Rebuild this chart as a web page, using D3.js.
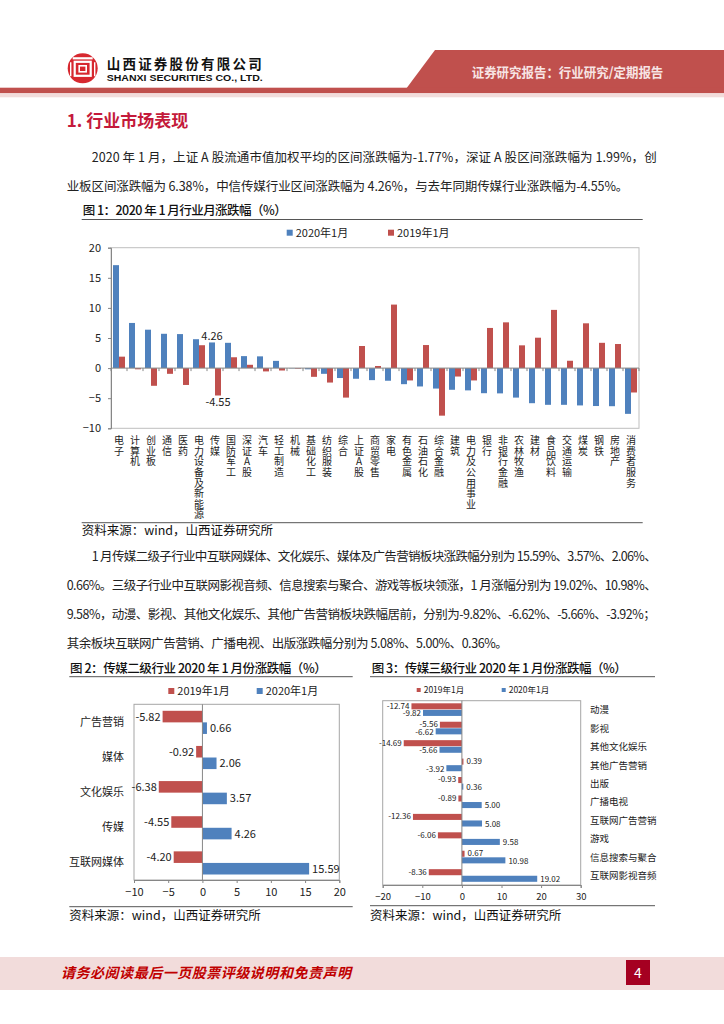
<!DOCTYPE html>
<html>
<head>
<meta charset="utf-8">
<script src="https://d3js.org/d3.v7.min.js"></script>
<style>
  body { margin: 0; padding: 0; background: #fff; }
  svg { display: block; }
</style>
</head>
<body>
<svg width="724" height="1024"></svg>
<script>
  // chart 1: industry monthly change
  const industries = ["电子", "计算机", "创业板", "通信", "医药", "电力设备及新能源", "传媒", "国防军工",
    "深证A股", "汽车", "轻工制造", "机械", "基础化工", "纺织服装", "综合", "上证A股", "商贸零售", "家电",
    "有色金属", "石油石化", "综合金融", "建筑", "电力及公用事业", "银行", "非银行金融", "农林牧渔",
    "建材", "食品饮料", "交通运输", "煤炭", "钢铁", "房地产", "消费者服务"];
  const chg2020 = [17.1, 7.5, 6.38, 5.7, 5.65, 4.8, 4.26, 4.2, 1.99, 1.95, 1.2, -0.05, -0.2, -0.95, -1.65,
    -1.77, -2.0, -2.1, -2.67, -3.05, -3.4, -3.6, -3.7, -4.17, -4.2, -4.9, -5.83, -6.1, -6.1, -6.2, -6.3,
    -6.33, -7.6];
  const chg2019 = [1.9, -0.2, -2.94, -0.95, -2.8, 3.8, -4.55, 1.8, 0.55, -0.55, -0.4, -0.1, -1.45, -2.4,
    -4.9, 3.67, 0.35, 10.55, -2.05, 3.83, -7.9, -1.4, -2.05, 6.67, 7.6, 3.78, 5.05, 9.67, 1.22, 7.44,
    4.2, 4.0, -4.05];
  const yTicks1 = [-10, -5, 0, 5, 10, 15, 20];

  // chart 2: media level-2
  const subCats2 = ["广告营销", "媒体", "文化娱乐", "传媒", "互联网媒体"];
  const sub2019 = [-5.82, -0.92, -6.38, -4.55, -4.20];
  const sub2020 = [0.66, 2.06, 3.57, 4.26, 15.59];
  const xTicks2 = [-10, -5, 0, 5, 10, 15, 20];

  // chart 3: media level-3
  const subCats3 = ["动漫", "影视", "其他文化娱乐", "其他广告营销", "出版", "广播电视", "互联网广告营销",
    "游戏", "信息搜索与聚合", "互联网影视音频"];
  const third2019 = [-12.74, -5.56, -14.69, 0.39, -0.93, -0.89, -12.36, -6.06, 0.67, -8.36];
  const third2020 = [-9.82, -6.62, -5.66, -3.92, 0.36, 5.00, 5.08, 9.58, 10.98, 19.02];
  const xTicks3 = [-20, -10, 0, 10, 20, 30];

  const BLUE = "#4f81bd", RED = "#c0504d";
  const FONT = "'Noto Sans CJK SC', sans-serif";
  const svg = d3.select("svg").style("font-family", FONT);

  // ---------- header ----------
  svg.append("path").attr("d", "M435,50H724V88H406.7Z").attr("fill", RED);
  svg.append("rect").attr("x", 0).attr("y", 87.7).attr("width", 724).attr("height", 5.6).attr("fill", RED);
  svg.append("rect").attr("x", 0).attr("y", 93.3).attr("width", 724).attr("height", 4).attr("fill", "#f2dcdb");

  const logo = svg.append("g").attr("transform", "translate(82.7,68.3)");
  logo.append("circle").attr("r", 15).attr("fill", "#d7282f");
  logo.append("line").attr("x1", -10).attr("x2", 10).attr("y1", -10).attr("y2", -10)
    .attr("stroke", "#fff").attr("stroke-width", 2.2);
  logo.append("rect").attr("x", -8).attr("y", -6.5).attr("width", 16).attr("height", 14)
    .attr("fill", "none").attr("stroke", "#fff").attr("stroke-width", 2.2);
  logo.append("rect").attr("x", -3.5).attr("y", -2.5).attr("width", 7).attr("height", 6)
    .attr("fill", "none").attr("stroke", "#fff").attr("stroke-width", 1.6);
  logo.append("line").attr("x1", -12).attr("x2", -12).attr("y1", -6).attr("y2", 8)
    .attr("stroke", "#fff").attr("stroke-width", 1.4);
  logo.append("line").attr("x1", 12).attr("x2", 12).attr("y1", -6).attr("y2", 8)
    .attr("stroke", "#fff").attr("stroke-width", 1.4);

  svg.append("text").attr("x", 106.7).attr("y", 68.5).attr("font-size", 13.5).attr("font-weight", 700)
    .attr("fill", "#111").attr("textLength", 155).attr("lengthAdjust", "spacing").text("山西证券股份有限公司");
  svg.append("text").attr("x", 106.7).attr("y", 81).attr("font-size", 9.5).attr("font-weight", 700)
    .attr("font-family", "'Liberation Sans Narrow', 'Liberation Sans', sans-serif")
    .attr("fill", "#111").attr("textLength", 156).attr("lengthAdjust", "spacingAndGlyphs")
    .text("SHANXI SECURITIES CO., LTD.");
  svg.append("text").attr("x", 471.7).attr("y", 77).attr("font-size", 13).attr("font-weight", 700)
    .attr("fill", "#f7e4e4").attr("textLength", 191.6).attr("lengthAdjust", "spacingAndGlyphs")
    .text("证券研究报告：行业研究/定期报告");

  svg.append("text").attr("x", 66.7).attr("y", 126.5).attr("font-size", 17).attr("font-weight", 700)
    .attr("fill", "#c41a3b").attr("textLength", 121.6).attr("lengthAdjust", "spacing").text("1. 行业市场表现");

  // ---------- paragraphs ----------
  function para(lines) {
    lines.forEach(l => {
      svg.append("text").attr("x", l.x).attr("y", l.y).attr("font-size", 12.5).attr("fill", "#222")
        .attr("textLength", l.w).attr("lengthAdjust", "spacing").text(l.t);
    });
  }
  para([
    { x: 91.7, y: 161.5, w: 565, t: "2020 年 1 月，上证 A 股流通市值加权平均的区间涨跌幅为-1.77%，深证 A 股区间涨跌幅为 1.99%，创" },
    { x: 66.7, y: 191, w: 561.6, t: "业板区间涨跌幅为 6.38%，中信传媒行业区间涨跌幅为 4.26%，与去年同期传媒行业涨跌幅为-4.55%。" }
  ]);
  para([
    { x: 91.7, y: 561, w: 565, t: "1 月传媒二级子行业中互联网媒体、文化娱乐、媒体及广告营销板块涨跌幅分别为 15.59%、3.57%、2.06%、" },
    { x: 66.7, y: 590, w: 590, t: "0.66%。三级子行业中互联网影视音频、信息搜索与聚合、游戏等板块领涨，1 月涨幅分别为 19.02%、10.98%、" },
    { x: 66.7, y: 619, w: 589, t: "9.58%，动漫、影视、其他文化娱乐、其他广告营销板块跌幅居前，分别为-9.82%、-6.62%、-5.66%、-3.92%；" },
    { x: 66.7, y: 648, w: 441, t: "其余板块互联网广告营销、广播电视、出版涨跌幅分别为 5.08%、5.00%、0.36%。" }
  ]);

  function figTitle(x, y, w, t, x0, x1, ly) {
    svg.append("text").attr("x", x).attr("y", y).attr("font-size", 12.5).attr("font-weight", 500)
      .attr("fill", "#111").attr("textLength", w).attr("lengthAdjust", "spacing").text(t);
    svg.append("line").attr("x1", x0).attr("x2", x1).attr("y1", ly).attr("y2", ly)
      .attr("stroke", "#555").attr("stroke-width", 1);
  }
  function source(x, y, x0, x1, ly) {
    svg.append("line").attr("x1", x0).attr("x2", x1).attr("y1", ly).attr("y2", ly)
      .attr("stroke", "#555").attr("stroke-width", 1);
    svg.append("text").attr("x", x).attr("y", y).attr("font-size", 12.5).attr("fill", "#111")
      .text("资料来源：wind，山西证券研究所");
  }
  function legendItem(x, y, size, color, label, fs) {
    svg.append("rect").attr("x", x).attr("y", y - size / 2).attr("width", size).attr("height", size).attr("fill", color);
    svg.append("text").attr("x", x + size + 3).attr("y", y).attr("dy", "0.36em")
      .attr("font-size", fs).attr("fill", "#222").text(label);
  }

  // ---------- chart 1 ----------
  figTitle(82.7, 215, 204, "图 1：2020 年 1 月行业月涨跌幅（%）", 81.7, 642.7, 219.5);
  legendItem(286.7, 232.7, 6, BLUE, "2020年1月", 11);
  legendItem(388, 232.7, 6, RED, "2019年1月", 11);

  const x1 = d3.scaleBand().domain(industries).range([111, 639]);
  const xs1 = d3.scaleBand().domain(["2020", "2019"]).range([2, x1.bandwidth() - 2]);
  const y1 = d3.scaleLinear().domain([-10, 20]).range([428.3, 247.7]);
  const g1 = svg.append("g");

  g1.append("rect").attr("x", 111).attr("y", y1(20)).attr("width", 528).attr("height", y1(-10) - y1(20))
    .attr("fill", "none").attr("stroke", "#bfbfbf");

  const ax1 = g1.append("g").attr("transform", "translate(111,0)")
    .call(d3.axisLeft(y1).tickValues(yTicks1).tickSize(3).tickPadding(7));
  ax1.selectAll("path, line").attr("stroke", "#868686");
  ax1.selectAll("text").attr("font-size", 11).attr("fill", "#222").attr("font-family", FONT);

  const series1 = [{ k: "2020", v: chg2020, c: BLUE }, { k: "2019", v: chg2019, c: RED }];
  series1.forEach(s => {
    g1.selectAll(null).data(industries).enter().append("rect")
      .attr("x", (d, i) => x1(d) + xs1(s.k))
      .attr("width", xs1.bandwidth())
      .attr("y", (d, i) => y1(Math.max(0, s.v[i])))
      .attr("height", (d, i) => Math.abs(y1(s.v[i]) - y1(0)))
      .attr("fill", s.c);
  });

  g1.append("line").attr("x1", 111).attr("x2", 639).attr("y1", y1(0)).attr("y2", y1(0)).attr("stroke", "#868686");
  g1.selectAll(null).data(industries.concat([null])).enter().append("line")
    .attr("x1", d => d === null ? 639 : x1(d)).attr("x2", d => d === null ? 639 : x1(d))
    .attr("y1", y1(0)).attr("y2", y1(0) + 3).attr("stroke", "#868686");

  // labels for 传媒
  const cm = industries.indexOf("传媒");
  g1.append("text").attr("x", x1("传媒") + xs1("2020") + xs1.bandwidth() / 2).attr("y", y1(chg2020[cm]) - 2.7)
    .attr("text-anchor", "middle").attr("font-size", 11).attr("fill", "#222").text(chg2020[cm].toFixed(2));
  g1.append("text").attr("x", x1("传媒") + xs1("2019") + xs1.bandwidth() / 2).attr("y", y1(chg2019[cm]) + 11)
    .attr("text-anchor", "middle").attr("font-size", 11).attr("fill", "#222").text(chg2019[cm].toFixed(2));

  // vertical category labels
  g1.selectAll(null).data(industries).enter().append("text")
    .attr("x", d => x1(d) + x1.bandwidth() / 2)
    .attr("y", 435.5)
    .style("writing-mode", "vertical-rl")
    .style("text-orientation", "upright")
    .style("letter-spacing", "0.6px")
    .attr("font-size", 10).attr("fill", "#222")
    .text(d => d);

  source(81.7, 535, 81.7, 642.7, 522.7);

  // ---------- horizontal grouped bar helper ----------
  function hbars(o) {
    const g = svg.append("g");
    const y = d3.scaleBand().domain(o.cats).range([o.top, o.bottom]);
    const ys = d3.scaleBand().domain(["2019", "2020"]).range(o.inner(y.bandwidth())).paddingInner(o.gap);
    const x = d3.scaleLinear().domain(o.domain).range([o.left, o.right]);

    g.append("rect").attr("x", o.left).attr("y", o.top).attr("width", o.right - o.left)
      .attr("height", o.bottom - o.top).attr("fill", "none").attr("stroke", "#a6a6a6");

    const ax = g.append("g").attr("transform", `translate(0,${o.bottom})`)
      .call(d3.axisBottom(x).tickValues(o.ticks).tickSize(3).tickPadding(o.tickPad));
    ax.selectAll("path, line").attr("stroke", "#868686");
    ax.selectAll("text").attr("font-size", o.fs).attr("fill", "#222").attr("font-family", FONT);

    const ser = [{ k: "2019", v: o.v2019, c: RED, dy: -o.spread }, { k: "2020", v: o.v2020, c: BLUE, dy: o.spread }];
    ser.forEach(s => {
      g.selectAll(null).data(o.cats).enter().append("rect")
        .attr("y", d => y(d) + ys(s.k))
        .attr("height", ys.bandwidth())
        .attr("x", (d, i) => x(Math.min(0, s.v[i])))
        .attr("width", (d, i) => Math.abs(x(s.v[i]) - x(0)))
        .attr("fill", s.c);
      g.selectAll(null).data(o.cats).enter().append("text")
        .attr("y", d => y(d) + ys(s.k) + ys.bandwidth() / 2 + s.dy)
        .attr("dy", "0.36em")
        .attr("x", (d, i) => s.v[i] < 0 ? x(s.v[i]) - 2 : x(s.v[i]) + 3)
        .attr("text-anchor", (d, i) => s.v[i] < 0 ? "end" : "start")
        .attr("font-size", o.vfs).attr("fill", "#222")
        .text((d, i) => s.v[i].toFixed(2));
    });

    g.append("line").attr("x1", x(0)).attr("x2", x(0)).attr("y1", o.top).attr("y2", o.bottom).attr("stroke", "#868686");

    g.selectAll(null).data(o.cats).enter().append("text")
      .attr("x", o.catX).attr("y", d => y(d) + y.bandwidth() / 2).attr("dy", "0.36em")
      .attr("text-anchor", o.catAnchor).attr("font-size", o.cfs).attr("fill", "#222").text(d => d);
  }

  // ---------- chart 2 ----------
  figTitle(70, 673, 256.7, "图 2：传媒二级行业 2020 年 1 月份涨跌幅（%）", 69.3, 352.7, 676.7);
  legendItem(168.3, 691, 6, RED, "2019年1月", 11);
  legendItem(256.7, 691, 6, BLUE, "2020年1月", 11);
  hbars({
    cats: subCats2, v2019: sub2019, v2020: sub2020, domain: [-10, 20], ticks: xTicks2,
    left: 134, right: 339.3, top: 704.3, bottom: 880,
    inner: bw => [6.5, bw - 5.5], gap: 0, tickPad: 5, fs: 11, vfs: 11, cfs: 11, spread: 0,
    catX: 124, catAnchor: "end"
  });
  source(69.3, 920, 69.3, 352.7, 906.7);

  // ---------- chart 3 ----------
  figTitle(371.7, 673, 255, "图 3：传媒三级行业 2020 年 1 月份涨跌幅（%）", 370, 655, 676.7);
  legendItem(416.7, 690, 4, RED, "2019年1月", 8.5);
  legendItem(501.7, 690, 4, BLUE, "2020年1月", 8.5);
  hbars({
    cats: subCats3, v2019: third2019, v2020: third2020, domain: [-20, 30], ticks: xTicks3,
    left: 382.7, right: 580.7, top: 700.7, bottom: 885,
    inner: bw => [2.6, bw - 3.2], gap: 0.08, tickPad: 5, fs: 9.5, vfs: 8, cfs: 9.5, spread: 0.5,
    catX: 590, catAnchor: "start"
  });
  source(370, 920, 370, 655, 905.7);

  // ---------- footer ----------
  svg.append("rect").attr("x", 0).attr("y", 957).attr("width", 724).attr("height", 33).attr("fill", "#f2dcdb");
  svg.append("text").attr("x", 61).attr("y", 978).attr("font-size", 14).attr("font-weight", 700)
    .attr("font-style", "italic").attr("fill", "#c00000").attr("textLength", 290).attr("lengthAdjust", "spacing")
    .text("请务必阅读最后一页股票评级说明和免责声明");
  svg.append("rect").attr("x", 626).attr("y", 960).attr("width", 24).attr("height", 25).attr("fill", "#a50021");
  svg.append("text").attr("x", 638).attr("y", 977.5).attr("text-anchor", "middle").attr("font-size", 14)
    .attr("fill", "#fff").text("4");
</script>
</body>
</html>
